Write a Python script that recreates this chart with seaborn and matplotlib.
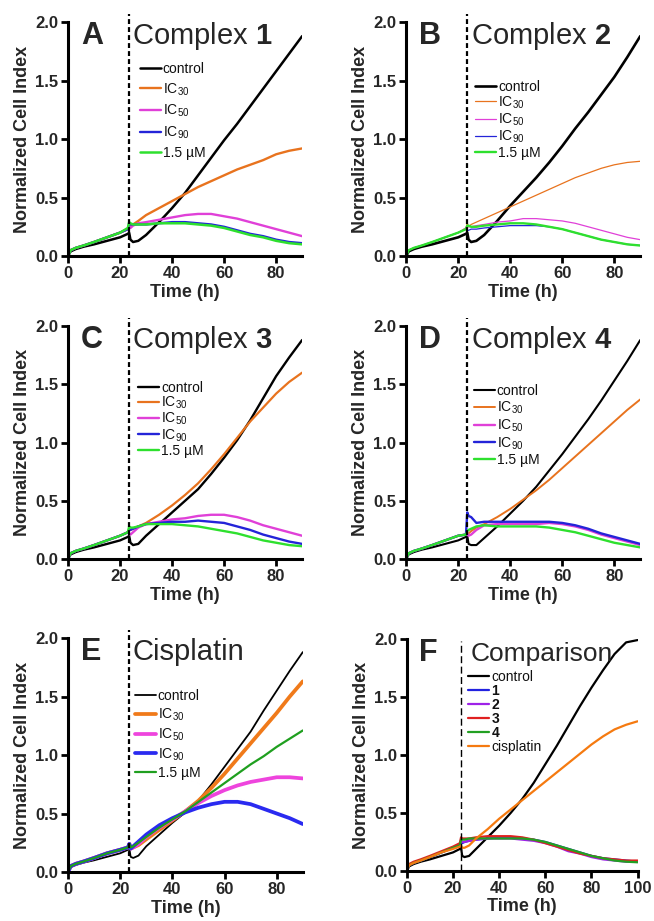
import matplotlib
matplotlib.use("Agg")
import matplotlib.pyplot as plt
import seaborn as sns
from matplotlib.ticker import FormatStrFormatter

sns.set_style("ticks")
plt.rcParams["font.family"] = ["Liberation Sans", "DejaVu Sans"]
plt.rcParams["mathtext.fontset"] = "custom"
plt.rcParams["mathtext.rm"] = "Liberation Sans"
plt.rcParams["mathtext.bf"] = "Liberation Sans:bold"
plt.rcParams["mathtext.default"] = "regular"

# time points (h)
t = [0, 1, 3, 6, 10, 15, 20, 23, 23.5, 24, 25, 27, 30, 35, 40, 45, 50, 55, 60, 65, 70, 75, 80, 85, 90]
t_f = t + [95, 100]

labels = ["control", "IC$_{30}$", "IC$_{50}$", "IC$_{90}$", "1.5 µM"]
labels_f = ["control", "1", "2", "3", "4", "cisplatin"]

# Complex 1
ctrl_a = [0.0, 0.04, 0.06, 0.08, 0.10, 0.13, 0.16, 0.19, 0.20, 0.14, 0.12, 0.13, 0.18, 0.29, 0.41, 0.54, 0.69, 0.84, 0.99, 1.13, 1.28, 1.43, 1.58, 1.73, 1.88]
ic30_a = [0.0, 0.05, 0.07, 0.09, 0.12, 0.16, 0.20, 0.23, 0.25, 0.25, 0.27, 0.30, 0.35, 0.41, 0.47, 0.53, 0.59, 0.64, 0.69, 0.74, 0.78, 0.82, 0.87, 0.90, 0.92]
ic50_a = [0.0, 0.05, 0.07, 0.09, 0.12, 0.16, 0.20, 0.23, 0.25, 0.24, 0.26, 0.28, 0.29, 0.31, 0.33, 0.35, 0.36, 0.36, 0.34, 0.32, 0.29, 0.26, 0.23, 0.20, 0.17]
ic90_a = [0.0, 0.05, 0.07, 0.09, 0.12, 0.16, 0.20, 0.23, 0.28, 0.27, 0.27, 0.27, 0.27, 0.28, 0.29, 0.29, 0.28, 0.27, 0.25, 0.22, 0.19, 0.17, 0.14, 0.12, 0.11]
um_a = [0.0, 0.05, 0.07, 0.09, 0.12, 0.16, 0.20, 0.24, 0.29, 0.28, 0.27, 0.27, 0.27, 0.28, 0.28, 0.28, 0.27, 0.26, 0.24, 0.21, 0.18, 0.16, 0.13, 0.11, 0.10]

# Complex 2
ctrl_b = [0.0, 0.04, 0.06, 0.08, 0.10, 0.13, 0.16, 0.19, 0.20, 0.14, 0.12, 0.13, 0.18, 0.30, 0.43, 0.55, 0.67, 0.80, 0.94, 1.09, 1.23, 1.38, 1.53, 1.70, 1.88]
ic30_b = [0.0, 0.05, 0.07, 0.09, 0.12, 0.16, 0.20, 0.24, 0.28, 0.25, 0.27, 0.29, 0.32, 0.37, 0.42, 0.47, 0.52, 0.57, 0.62, 0.67, 0.71, 0.75, 0.78, 0.80, 0.81]
ic50_b = [0.0, 0.05, 0.07, 0.09, 0.12, 0.16, 0.20, 0.24, 0.26, 0.25, 0.25, 0.26, 0.27, 0.29, 0.30, 0.32, 0.32, 0.31, 0.30, 0.28, 0.25, 0.22, 0.19, 0.16, 0.14]
ic90_b = [0.0, 0.05, 0.07, 0.09, 0.12, 0.16, 0.20, 0.23, 0.22, 0.22, 0.23, 0.23, 0.24, 0.25, 0.26, 0.26, 0.26, 0.25, 0.23, 0.20, 0.17, 0.14, 0.12, 0.10, 0.09]
um_b = [0.0, 0.05, 0.07, 0.09, 0.12, 0.16, 0.20, 0.23, 0.26, 0.26, 0.25, 0.25, 0.26, 0.27, 0.28, 0.28, 0.27, 0.25, 0.23, 0.20, 0.17, 0.14, 0.12, 0.10, 0.09]

# Complex 3
ctrl_c = [0.0, 0.04, 0.06, 0.08, 0.10, 0.13, 0.16, 0.19, 0.20, 0.14, 0.12, 0.13, 0.20, 0.30, 0.40, 0.50, 0.60, 0.73, 0.87, 1.02, 1.19, 1.38, 1.57, 1.73, 1.88]
ic30_c = [0.0, 0.05, 0.07, 0.09, 0.12, 0.16, 0.20, 0.23, 0.25, 0.25, 0.26, 0.28, 0.31, 0.38, 0.46, 0.55, 0.65, 0.77, 0.90, 1.04, 1.18, 1.30, 1.42, 1.52, 1.60]
ic50_c = [0.0, 0.05, 0.07, 0.09, 0.12, 0.16, 0.20, 0.23, 0.22, 0.21, 0.23, 0.27, 0.30, 0.32, 0.34, 0.35, 0.37, 0.38, 0.38, 0.36, 0.33, 0.29, 0.26, 0.23, 0.20]
ic90_c = [0.0, 0.05, 0.07, 0.09, 0.12, 0.16, 0.20, 0.23, 0.25, 0.25, 0.26, 0.28, 0.30, 0.31, 0.32, 0.32, 0.33, 0.32, 0.31, 0.28, 0.25, 0.21, 0.18, 0.15, 0.13]
um_c = [0.0, 0.05, 0.07, 0.09, 0.12, 0.16, 0.20, 0.23, 0.28, 0.27, 0.27, 0.28, 0.30, 0.30, 0.30, 0.29, 0.28, 0.26, 0.24, 0.22, 0.19, 0.16, 0.14, 0.12, 0.11]

# Complex 4
ctrl_d = [0.0, 0.04, 0.06, 0.08, 0.10, 0.13, 0.16, 0.19, 0.20, 0.13, 0.12, 0.12, 0.18, 0.28, 0.39, 0.50, 0.62, 0.76, 0.90, 1.05, 1.20, 1.36, 1.53, 1.70, 1.88]
ic30_d = [0.0, 0.05, 0.07, 0.09, 0.12, 0.16, 0.20, 0.21, 0.22, 0.22, 0.24, 0.27, 0.30, 0.36, 0.43, 0.51, 0.59, 0.68, 0.78, 0.88, 0.98, 1.08, 1.18, 1.28, 1.37]
ic50_d = [0.0, 0.05, 0.07, 0.09, 0.12, 0.16, 0.20, 0.21, 0.22, 0.20, 0.21, 0.25, 0.29, 0.30, 0.30, 0.30, 0.30, 0.31, 0.30, 0.28, 0.25, 0.21, 0.18, 0.15, 0.12]
ic90_d = [0.0, 0.05, 0.07, 0.09, 0.12, 0.16, 0.20, 0.21, 0.40, 0.37, 0.36, 0.31, 0.32, 0.32, 0.32, 0.32, 0.32, 0.32, 0.31, 0.29, 0.26, 0.22, 0.19, 0.16, 0.13]
um_d = [0.0, 0.05, 0.07, 0.09, 0.12, 0.16, 0.20, 0.21, 0.24, 0.25, 0.26, 0.28, 0.29, 0.28, 0.28, 0.28, 0.28, 0.27, 0.25, 0.23, 0.20, 0.17, 0.14, 0.12, 0.10]

# Cisplatin
ctrl_e = [0.0, 0.04, 0.06, 0.08, 0.10, 0.13, 0.16, 0.19, 0.20, 0.13, 0.12, 0.14, 0.22, 0.32, 0.42, 0.51, 0.61, 0.75, 0.90, 1.05, 1.20, 1.38, 1.55, 1.72, 1.88]
ic30_e = [0.0, 0.05, 0.07, 0.09, 0.12, 0.16, 0.19, 0.21, 0.24, 0.20, 0.21, 0.23, 0.28, 0.36, 0.44, 0.52, 0.61, 0.72, 0.84, 0.97, 1.10, 1.23, 1.36, 1.50, 1.63]
ic50_e = [0.0, 0.05, 0.07, 0.09, 0.12, 0.16, 0.19, 0.21, 0.24, 0.20, 0.21, 0.24, 0.30, 0.38, 0.45, 0.52, 0.59, 0.65, 0.70, 0.74, 0.77, 0.79, 0.81, 0.81, 0.80]
ic90_e = [0.0, 0.05, 0.07, 0.09, 0.12, 0.16, 0.19, 0.21, 0.24, 0.20, 0.22, 0.26, 0.32, 0.40, 0.46, 0.51, 0.55, 0.58, 0.60, 0.60, 0.58, 0.54, 0.50, 0.46, 0.41]
um_e = [0.0, 0.05, 0.07, 0.09, 0.12, 0.16, 0.19, 0.21, 0.24, 0.21, 0.22, 0.25, 0.30, 0.38, 0.45, 0.52, 0.60, 0.68, 0.76, 0.84, 0.92, 0.99, 1.07, 1.14, 1.21]

# Comparison
ctrl_f = [0.0, 0.04, 0.06, 0.08, 0.10, 0.13, 0.16, 0.19, 0.20, 0.13, 0.12, 0.13, 0.19, 0.29, 0.39, 0.50, 0.62, 0.76, 0.92, 1.08, 1.25, 1.42, 1.58, 1.73, 1.87, 1.97, 1.99]
c1_f = [0.0, 0.05, 0.07, 0.09, 0.12, 0.16, 0.20, 0.22, 0.25, 0.24, 0.25, 0.26, 0.27, 0.28, 0.29, 0.29, 0.28, 0.27, 0.25, 0.22, 0.19, 0.16, 0.13, 0.11, 0.10, 0.09, 0.08]
c2_f = [0.0, 0.05, 0.07, 0.09, 0.12, 0.16, 0.20, 0.22, 0.26, 0.25, 0.25, 0.26, 0.27, 0.28, 0.28, 0.28, 0.27, 0.26, 0.24, 0.21, 0.17, 0.15, 0.12, 0.10, 0.09, 0.08, 0.08]
c3_f = [0.0, 0.06, 0.08, 0.10, 0.13, 0.17, 0.21, 0.24, 0.29, 0.28, 0.28, 0.28, 0.29, 0.30, 0.30, 0.30, 0.29, 0.27, 0.24, 0.21, 0.18, 0.15, 0.13, 0.11, 0.10, 0.09, 0.09]
c4_f = [0.0, 0.05, 0.07, 0.09, 0.12, 0.16, 0.20, 0.22, 0.27, 0.27, 0.27, 0.28, 0.28, 0.28, 0.28, 0.28, 0.28, 0.27, 0.25, 0.22, 0.19, 0.16, 0.13, 0.11, 0.09, 0.08, 0.075]
cis_f = [0.0, 0.05, 0.07, 0.09, 0.12, 0.16, 0.19, 0.21, 0.22, 0.20, 0.20, 0.22, 0.28, 0.36, 0.45, 0.53, 0.61, 0.69, 0.77, 0.85, 0.93, 1.01, 1.09, 1.16, 1.22, 1.26, 1.29]

col_bright = ["black", "#E8731E", "#E040D8", "#2424D8", "#2EE02E"]
col_e = ["black", "#F07A1A", "#EE44DD", "#2A2AF0", "#1F9F1F"]
col_f = ["black", "#2222E0", "#9E22E8", "#E02020", "#22A022", "#F57A10"]

panels = [
    # letter, title, title size, position, x, series, colors, widths, labels, legend anchor, legend spacing
    ("A", "Complex $\\mathbf{1}$", 21, [0.104, 0.722, 0.358, 0.254], t,
     [ctrl_a, ic30_a, ic50_a, ic90_a, um_a], col_bright, [1.8, 1.7, 1.7, 1.7, 1.8], labels, (0.307, 0.830), 0.38),
    ("B", "Complex $\\mathbf{2}$", 21, [0.621, 0.722, 0.358, 0.254], t,
     [ctrl_b, ic30_b, ic50_b, ic90_b, um_b], col_bright, [1.9, 0.9, 0.9, 0.9, 1.7], labels, (0.296, 0.754), 0.05),
    ("C", "Complex $\\mathbf{3}$", 21, [0.104, 0.393, 0.358, 0.253], t,
     [ctrl_c, ic30_c, ic50_c, ic90_c, um_c], col_bright, [1.7, 1.6, 1.7, 1.7, 1.7], labels, (0.300, 0.766), 0.0),
    ("D", "Complex $\\mathbf{4}$", 21, [0.621, 0.393, 0.358, 0.253], t,
     [ctrl_d, ic30_d, ic50_d, ic90_d, um_d], col_bright, [1.5, 1.4, 1.7, 1.7, 1.7], labels, (0.289, 0.750), 0.1),
    ("E", "Cisplatin", 21, [0.104, 0.0532, 0.359, 0.254], t,
     [ctrl_e, ic30_e, ic50_e, ic90_e, um_e], col_e, [1.3, 2.7, 2.7, 2.7, 1.6], labels, (0.284, 0.782), 0.25),
    ("F", "Comparison", 19, [0.622, 0.0543, 0.353, 0.252], t_f,
     [ctrl_f, c1_f, c2_f, c3_f, c4_f, cis_f], col_f, [1.6, 1.6, 1.6, 1.6, 1.6, 1.6], labels_f, (0.267, 0.866), 0.0),
]

fig = plt.figure(figsize=(6.54, 9.21), dpi=100)

for letter, title, tsize, pos, x, series, colors, widths, labs, anchor, spacing in panels:
    ax = fig.add_axes(pos)
    for vals, c, lw, lab in zip(series, colors, widths, labs):
        sns.lineplot(x=x, y=vals, ax=ax, color=c, linewidth=lw, label=lab,
                     estimator=None, sort=False)
    xmax = x[-1]
    if letter == "F":
        ax.axvline(23.5, ymin=0, ymax=0.99, color="black", lw=1.0,
                   linestyle=(0, (5, 2.5)), clip_on=False)
    else:
        ax.axvline(23.3, ymin=0, ymax=1.035, color="black", lw=1.6,
                   linestyle=(0, (2.2, 1.4)), clip_on=False)

    ax.set_xlim(0, xmax)
    ax.set_ylim(0, 2.0)
    ax.set_xticks(list(range(0, int(xmax) + 1, 20)))
    ax.set_yticks([0, 0.5, 1.0, 1.5, 2.0])
    ax.yaxis.set_major_formatter(FormatStrFormatter("%.1f"))
    ax.tick_params(width=2, length=5, direction="out", labelsize=12, pad=2, color="black")
    for lab in ax.get_xticklabels() + ax.get_yticklabels():
        lab.set_fontweight("bold")
    sns.despine(ax=ax)
    for side in ["left", "bottom"]:
        ax.spines[side].set_linewidth(2.2)
        ax.spines[side].set_color("black")

    ax.set_xlabel("Time (h)", fontsize=13, fontweight="bold", labelpad=2)
    ax.set_ylabel("Normalized Cell Index", fontsize=13, fontweight="bold", labelpad=3)

    ax.text(0.055 * xmax, 1.81, letter, fontsize=22, fontweight="bold", ha="left", va="baseline")
    ax.text(0.275 * xmax, 1.81, title, fontsize=tsize, ha="left", va="baseline")

    leg = ax.legend(loc="upper left", bbox_to_anchor=anchor, frameon=False, fontsize=10,
                    handlelength=1.5, handletextpad=0.15, borderpad=0, borderaxespad=0,
                    labelspacing=spacing)
    for txt in leg.get_texts():
        txt.set_color("#111111")
        if txt.get_text().isdigit():
            txt.set_fontweight("bold")

fig.savefig("out.png", dpi=100)
